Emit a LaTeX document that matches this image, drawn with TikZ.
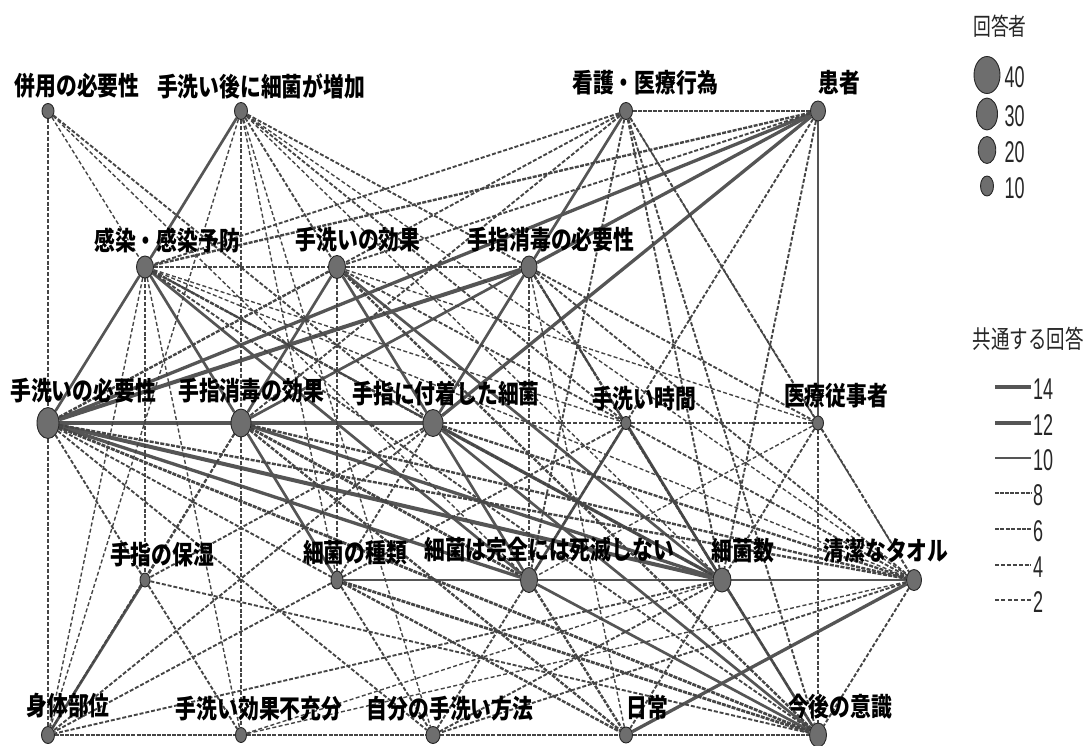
\documentclass[tikz,border=0pt]{standalone}
\usepackage{fontspec}
\usetikzlibrary{shapes.geometric}
\newfontfamily\jp{Noto Sans CJK JP}[FakeStretch=0.8]
\newfontfamily\jpl{Noto Sans CJK JP}[FakeStretch=0.74]
\newfontfamily\numf{Liberation Sans}[FakeStretch=0.6]
\definecolor{nodefill}{HTML}{6E6E6E}
\definecolor{edgec}{HTML}{555555}
\definecolor{dashc}{HTML}{454545}
\pgfdeclarelayer{bg}
\pgfsetlayers{bg,main}
\tikzset{
  vtx/.style={ellipse, draw=black!85, line width=0.9pt, fill=nodefill, inner sep=0pt},
  lab/.style={font=\jp\bfseries\fontsize{26}{28}\selectfont, inner sep=0pt, text=black},
  leglab/.style={font=\jpl\fontsize{24}{26}\selectfont, inner sep=0pt, text=black!85},
  numlab/.style={font=\numf\fontsize{30}{30}\selectfont, inner sep=0pt, text=black!85},
  e14/.style={draw=edgec, line width=4.0pt},
  e12/.style={draw=edgec, line width=3.3pt},
  e10/.style={draw=edgec, line width=2.7pt},
  e8/.style={draw=dashc, line width=2.8pt, dash pattern=on 4pt off 1.1pt},
  e6/.style={draw=dashc, line width=2.4pt, dash pattern=on 4pt off 1.4pt},
  e4/.style={draw=dashc, line width=1.9pt, dash pattern=on 4pt off 1.9pt},
  e2/.style={draw=dashc, line width=1.4pt, dash pattern=on 4pt off 2.4pt},
}
\newcommand\vnode[5]{\node[vtx, minimum width=#4pt, minimum height=#5pt] (#1) at (#2,#3) {};}
\begin{document}
\begin{tikzpicture}[x=1pt,y=-1pt]
\useasboundingbox (0,0) rectangle (1086,745);
% nodes
\vnode{A}{48}{111}{12}{15}
\vnode{B}{241}{111}{13}{17}
\vnode{C}{626}{111}{13}{17}
\vnode{D}{818}{111}{15}{20}
\vnode{E}{145}{267}{17}{22}
\vnode{F}{337}{267}{17}{23}
\vnode{G}{529}{267}{16}{22}
\vnode{H}{48}{423}{22}{31}
\vnode{I}{241}{423}{20}{28}
\vnode{J}{433}{423}{20}{27}
\vnode{K}{626}{423}{10}{13}
\vnode{L}{818}{423}{11}{14}
\vnode{M}{145}{580}{10}{14}
\vnode{N}{337}{580}{12}{18}
\vnode{O}{529}{580}{17}{25}
\vnode{P}{722}{580}{18}{24}
\vnode{Q}{914}{580}{15}{21}
\vnode{R}{48}{735}{13}{17}
\vnode{S}{241}{735}{11}{15}
\vnode{T}{433}{735}{14}{17}
\vnode{U}{626}{735}{13}{16}
\vnode{V}{818}{735}{17}{24}
% edges
\begin{pgfonlayer}{bg}
\foreach \a/\b in {H/I, I/J, G/H, H/P}
  \draw[e14] (\a) -- (\b);
\foreach \a/\b in {D/G, D/H, D/J, H/O, I/P, J/P, Q/U}
  \draw[e12] (\a) -- (\b);
\foreach \a/\b in {N/O, O/P, P/Q, D/L, B/E, C/G, E/H, E/I, E/O, F/I, F/J, F/P, G/I, G/J, I/N, J/O, J/V, K/P, K/O, M/R, O/V, P/V}
  \draw[e10] (\a) -- (\b);
\foreach \a/\b in {C/D, R/S, S/T, T/U, U/V, H/V, I/O, N/V}
  \draw[e8] (\a) -- (\b);
\foreach \a/\b in {E/F, F/G, D/E, E/P, F/H, F/V, G/P, H/Q, I/Q, I/U, J/Q, N/U, O/U}
  \draw[e6] (\a) -- (\b);
\foreach \a/\b in {J/K, K/L, A/H, H/R, B/I, I/S, E/M, F/N, G/O, L/V, A/J, B/F, B/G, B/K, C/E, C/F, C/I, C/O, C/P, C/V, C/L, D/F, D/O, D/P, E/J, E/V, F/K, G/Q, G/L, G/V, H/N, H/T, H/M, I/M, I/R, J/M, J/R, J/N, K/Q, K/N, L/Q, L/P, M/S, M/V, N/T, N/R, O/T, P/U, P/T, P/R, Q/V, Q/T}
  \draw[e4] (\a) -- (\b);
\foreach \a/\b in {A/E, A/O, B/R, B/N, B/T, B/Q, B/P, C/Q, E/K, E/S, E/R, E/Q, F/L, G/U, L/O, P/S, Q/S}
  \draw[e2] (\a) -- (\b);
\end{pgfonlayer}
% labels
\node[lab] (Al) at (77,86) {併用の必要性};
\node[lab] (Bl) at (261,86) {手洗い後に細菌が増加};
\node[lab] (Cl) at (645,83) {看護・医療行為};
\node[lab] (Dl) at (839,83) {患者};
\node[lab] (El) at (167,240) {感染・感染予防};
\node[lab] (Fl) at (358,240) {手洗いの効果};
\node[lab] (Gl) at (551,240) {手指消毒の必要性};
\node[lab] (Hl) at (83,391) {手洗いの必要性};
\node[lab] (Il) at (251,391) {手指消毒の効果};
\node[lab] (Jl) at (446,394) {手指に付着した細菌};
\node[lab] (Kl) at (644,399) {手洗い時間};
\node[lab] (Ll) at (836,396) {医療従事者};
\node[lab] (Ml) at (162,555) {手指の保湿};
\node[lab] (Nl) at (355,553) {細菌の種類};
\node[lab] (Ol) at (549,550) {細菌は完全には死滅しない};
\node[lab] (Pl) at (743,551) {細菌数};
\node[lab] (Ql) at (886,551) {清潔なタオル};
\node[lab] (Rl) at (68,706) {身体部位};
\node[lab] (Sl) at (259,709) {手洗い効果不充分};
\node[lab] (Tl) at (450,709) {自分の手洗い方法};
\node[lab] (Ul) at (647,708) {日常};
\node[lab] (Vl) at (840,707) {今後の意識};
% legend: respondents
\node[leglab] (lg1) at (1000,26) {回答者};
\node[vtx, minimum width=26pt, minimum height=37pt] (c40) at (987,75) {};
\node[vtx, minimum width=21pt, minimum height=32pt] (c30) at (987,114) {};
\node[vtx, minimum width=17.5pt, minimum height=27pt] (c20) at (987,150) {};
\node[vtx, minimum width=13pt, minimum height=20pt] (c10) at (987,186) {};
\node[numlab] (n40) at (1014.5,77) {40};
\node[numlab] (n30) at (1014.5,116) {30};
\node[numlab] (n20) at (1014.5,152) {20};
\node[numlab] (n10) at (1014.5,188) {10};
% legend: shared answers
\node[leglab, font=\jpl\fontsize{25}{27}\selectfont] (lg2) at (1028,339) {共通する回答};
\foreach \w/\yy in {14/387, 12/423, 10/458, 8/493, 6/529, 4/565, 2/600}{
  \coordinate (la\w) at (995,\yy);
  \coordinate (lb\w) at (1031,\yy);
  \draw[e\w] (la\w) -- (lb\w);
  \node[numlab, anchor=west] (lt\w) at (1033,\yy+2) {\w};
}
\end{tikzpicture}
\end{document}
